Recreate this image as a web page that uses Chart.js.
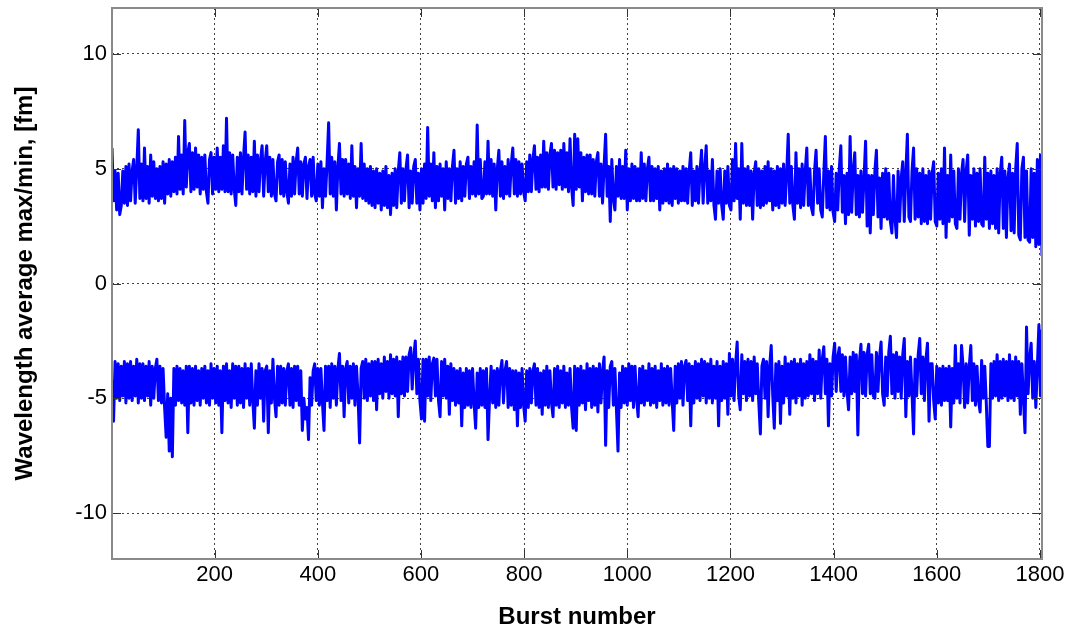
<!DOCTYPE html>
<html>
<head>
<meta charset="utf-8">
<script src="https://cdn.jsdelivr.net/npm/chart.js@4/dist/chart.umd.min.js"></script>
<style>
  html, body { margin: 0; padding: 0; background: #fff; }
  canvas { display: block; }
</style>
</head>
<body>
<canvas id="burstChart" width="1068" height="627"></canvas>
<script>
const CHART = document.getElementById("burstChart");

// one sample every 3 bursts (1, 4, 7 ... 1804)
const burstStep = 3;

const upperValues = [
  5.9, 3.6, 4.9, 3.2, 4.8, 3.0, 3.4, 4.9, 3.5, 5.1,
  3.4, 5.2, 3.6, 4.9, 5.4, 3.5, 5.0, 6.7, 3.7, 5.2,
  3.6, 5.9, 3.7, 5.1, 3.5, 5.6, 3.8, 5.3, 3.7, 5.0,
  3.6, 5.1, 3.7, 5.3, 3.5, 5.2, 3.9, 5.4, 3.8, 5.3,
  4.0, 5.5, 3.9, 6.4, 4.1, 5.6, 3.9, 7.1, 4.2, 5.7,
  6.1, 4.0, 5.7, 4.1, 5.9, 4.2, 5.6, 3.9, 5.5, 4.1,
  5.6, 4.0, 3.5, 5.4, 5.7, 3.9, 5.5, 4.1, 5.9, 4.0,
  5.5, 4.1, 6.0, 4.0, 7.2, 4.0, 5.7, 3.9, 5.6, 4.1,
  3.4, 5.5, 4.0, 5.7, 3.9, 5.5, 6.6, 4.1, 5.6, 3.9,
  5.5, 4.0, 6.2, 3.8, 5.6, 4.0, 5.4, 6.0, 3.8, 5.3,
  6.0, 4.0, 5.5, 3.8, 5.4, 3.9, 3.6, 5.3, 5.6, 3.9,
  5.4, 3.8, 5.3, 4.0, 3.5, 5.2, 3.8, 5.5, 3.9, 5.3,
  5.9, 3.9, 5.3, 3.8, 5.2, 5.5, 3.7, 5.1, 5.4, 3.8,
  5.5, 3.9, 3.6, 5.2, 3.8, 5.3, 3.3, 5.0, 3.8, 5.3,
  7.0, 3.9, 5.5, 3.8, 5.3, 3.2, 5.1, 6.1, 3.9, 5.4,
  3.8, 5.4, 3.9, 5.2, 3.7, 6.0, 3.8, 5.1, 3.3, 5.0,
  3.8, 6.1, 3.7, 5.2, 3.6, 5.0, 3.5, 5.1, 3.4, 4.9,
  3.3, 5.0, 3.5, 4.8, 3.2, 4.9, 3.4, 5.1, 3.3, 4.7,
  3.0, 4.8, 3.4, 5.0, 3.3, 4.9, 5.7, 3.5, 5.0, 3.6,
  5.0, 5.6, 3.3, 4.9, 3.5, 5.1, 5.4, 3.5, 4.8, 3.2,
  5.0, 3.5, 5.2, 3.7, 6.8, 3.8, 5.2, 3.6, 5.7, 3.3,
  5.1, 3.6, 5.2, 3.8, 5.0, 3.2, 5.3, 3.7, 5.0, 3.6,
  5.1, 5.8, 3.5, 5.0, 3.7, 5.3, 3.6, 5.1, 3.8, 5.2,
  5.5, 3.7, 5.1, 3.9, 5.3, 3.8, 6.9, 3.9, 5.4, 3.7,
  3.8, 5.3, 3.9, 6.2, 3.9, 5.4, 3.8, 5.2, 3.2, 5.0,
  5.8, 3.8, 5.3, 3.7, 5.1, 3.9, 5.4, 3.8, 5.2, 5.9,
  3.9, 5.4, 3.8, 5.3, 3.9, 5.2, 4.0, 3.6, 5.3, 4.0,
  5.6, 4.0, 5.4, 6.0, 4.1, 5.5, 4.0, 5.6, 4.2, 6.2,
  4.2, 5.7, 4.1, 5.6, 6.1, 4.2, 5.8, 4.1, 5.7, 4.3,
  5.8, 4.1, 6.1, 4.2, 5.7, 4.0, 6.3, 4.2, 3.4, 6.5,
  4.1, 6.3, 4.2, 5.7, 3.6, 5.5, 4.0, 5.6, 3.9, 5.6,
  3.9, 5.4, 3.8, 5.3, 5.7, 3.8, 5.2, 3.5, 5.1, 6.5,
  3.8, 5.1, 2.7, 5.4, 3.7, 3.2, 5.1, 3.8, 5.4, 3.7,
  5.1, 3.7, 5.8, 3.2, 5.0, 3.6, 5.2, 3.7, 5.1, 3.6,
  5.0, 3.6, 5.7, 3.7, 5.2, 3.6, 5.0, 5.5, 3.6, 5.1,
  3.6, 5.0, 3.7, 5.1, 3.2, 4.9, 3.5, 5.0, 3.6, 5.2,
  3.5, 5.0, 3.4, 5.1, 3.7, 5.0, 3.5, 4.9, 3.6, 5.1,
  3.6, 5.0, 3.5, 4.9, 5.7, 3.4, 4.9, 3.6, 5.1, 3.5,
  4.9, 5.8, 3.5, 5.0, 6.0, 3.5, 4.9, 3.6, 5.4, 3.4,
  2.8, 4.9, 3.5, 5.0, 3.4, 2.8, 4.9, 3.5, 5.1, 3.4,
  3.2, 5.4, 3.6, 6.1, 3.7, 5.0, 2.8, 6.1, 3.5, 5.0,
  3.4, 5.1, 3.4, 4.9, 2.8, 4.8, 5.3, 3.4, 5.0, 3.3,
  4.9, 3.4, 5.1, 3.5, 5.3, 3.6, 5.0, 3.2, 4.9, 3.4,
  5.1, 3.3, 5.0, 3.5, 5.2, 3.4, 4.8, 6.5, 3.5, 5.1,
  3.4, 2.8, 5.7, 3.5, 5.0, 3.3, 5.2, 3.4, 4.9, 5.9,
  3.4, 5.0, 3.3, 3.0, 4.9, 5.8, 3.5, 5.0, 3.2, 2.9,
  4.8, 6.4, 3.3, 4.9, 3.2, 5.1, 3.1, 2.7, 4.8, 3.2,
  5.0, 6.0, 3.1, 4.7, 2.6, 4.8, 3.0, 6.4, 3.1, 4.9,
  5.7, 3.0, 4.7, 2.9, 4.9, 3.1, 4.6, 6.2, 2.5, 4.7,
  2.2, 4.7, 3.0, 4.9, 5.8, 2.9, 4.6, 2.4, 4.8, 2.9,
  5.0, 2.8, 4.8, 2.7, 2.2, 4.7, 2.8, 2.0, 4.9, 2.7,
  4.6, 5.3, 2.7, 4.8, 6.5, 2.9, 2.7, 4.9, 5.9, 2.8,
  5.0, 2.9, 4.8, 2.6, 5.0, 2.7, 4.7, 2.6, 4.9, 2.8,
  4.8, 5.3, 2.7, 2.5, 4.8, 2.8, 5.0, 2.6, 5.9, 2.0,
  4.7, 2.7, 5.6, 2.9, 4.9, 2.6, 2.4, 5.0, 2.8, 4.8,
  5.4, 2.7, 4.9, 5.6, 2.1, 4.7, 2.8, 5.0, 2.5, 4.8,
  2.7, 5.0, 2.6, 2.5, 5.5, 2.8, 4.8, 2.4, 4.9, 2.6,
  4.7, 2.4, 5.0, 2.2, 4.8, 5.5, 2.4, 4.9, 2.0, 4.6,
  5.2, 2.3, 4.8, 2.2, 5.0, 6.1, 2.1, 1.9, 5.0, 5.5,
  2.0, 4.9, 1.9, 1.8, 5.0, 2.0, 4.8, 1.6, 5.4, 1.7,
  5.6, 1.2
];

const lowerValues = [
  -4.2, -6.0, -3.4, -5.0, -3.5, -5.1, -3.6, -4.9, -3.4, -5.2,
  -3.5, -5.0, -3.4, -5.1, -3.6, -4.9, -3.3, -5.2, -3.5, -5.0,
  -3.5, -5.1, -3.6, -4.9, -3.4, -5.3, -3.6, -5.0, -3.7, -3.3,
  -5.1, -3.6, -5.2, -3.7, -5.4, -6.7, -4.8, -7.3, -5.0, -7.55,
  -3.7, -5.3, -3.6, -5.1, -3.7, -5.2, -3.8, -5.3, -3.6, -6.5,
  -3.6, -5.2, -3.7, -5.3, -3.6, -5.1, -3.8, -5.3, -3.7, -5.0,
  -3.6, -5.2, -3.8, -5.3, -3.5, -5.0, -3.7, -5.2, -3.6, -5.3,
  -3.8, -6.5, -3.6, -5.1, -3.5, -5.2, -3.8, -5.4, -3.5, -5.0,
  -3.6, -5.3, -3.6, -5.2, -3.7, -5.4, -3.5, -5.0, -3.7, -5.3,
  -3.5, -5.1, -6.3, -3.8, -5.3, -3.5, -5.0, -3.7, -6.0, -3.8,
  -3.6, -6.5, -3.8, -5.2, -3.3, -5.0, -5.8, -3.6, -5.3, -3.6,
  -5.2, -3.7, -5.3, -3.8, -3.5, -5.3, -3.7, -5.4, -3.6, -5.1,
  -3.6, -5.3, -3.8, -6.4, -5.0, -5.9, -5.4, -6.8, -4.1, -5.3,
  -3.8, -3.5, -5.1, -3.7, -5.3, -3.7, -5.2, -6.4, -3.6, -5.1,
  -3.6, -5.4, -3.5, -5.0, -3.6, -5.3, -3.7, -3.05, -5.1, -3.6,
  -5.8, -3.7, -3.4, -5.2, -3.6, -5.0, -3.5, -5.3, -3.6, -4.9,
  -6.95, -3.7, -3.4, -5.0, -3.3, -5.1, -3.5, -4.9, -3.4, -5.1,
  -3.4, -5.5, -3.3, -4.8, -3.5, -5.0, -3.2, -4.7, -3.4, -5.0,
  -3.1, -4.8, -3.3, -4.9, -3.2, -5.8, -3.4, -4.8, -3.2, -4.9,
  -3.2, -4.7, -3.1, -2.8, -4.6, -3.2, -2.5, -4.8, -3.3, -5.1,
  -5.9, -3.3, -6.0, -3.3, -4.9, -3.2, -5.1, -3.5, -3.25, -4.9,
  -3.3, -5.1, -5.8, -3.4, -4.9, -3.3, -5.0, -3.6, -5.7, -3.5,
  -5.1, -3.7, -5.3, -3.8, -5.2, -3.7, -6.2, -3.9, -5.4, -3.7,
  -5.3, -3.8, -5.4, -3.7, -5.2, -6.3, -3.9, -5.4, -3.7, -5.3,
  -3.8, -5.4, -3.7, -6.8, -5.0, -3.6, -5.2, -3.8, -5.4, -3.7,
  -5.3, -3.8, -3.35, -5.2, -3.8, -3.4, -5.4, -3.7, -5.3, -3.8,
  -5.5, -3.8, -6.2, -3.9, -5.4, -3.7, -5.3, -6.0, -3.8, -5.4,
  -3.7, -5.2, -3.8, -3.5, -5.3, -3.7, -5.4, -3.9, -5.7, -3.8,
  -5.3, -3.6, -5.4, -3.8, -5.2, -5.8, -3.7, -5.3, -3.6, -5.4,
  -3.8, -5.2, -3.6, -5.4, -3.9, -5.3, -3.7, -5.4, -6.3, -3.6,
  -6.4, -3.7, -5.3, -3.6, -5.2, -3.8, -5.5, -3.5, -5.1, -3.7,
  -5.4, -3.6, -5.3, -3.7, -5.6, -3.5, -5.2, -3.8, -3.2, -7.05,
  -3.8, -5.4, -3.6, -3.4, -5.3, -3.7, -5.5, -7.3, -3.9, -5.4,
  -3.6, -5.2, -3.7, -5.3, -3.5, -5.1, -3.6, -5.4, -3.6, -5.0,
  -5.8, -3.7, -5.2, -3.6, -5.3, -3.8, -5.1, -3.5, -5.3, -3.7,
  -5.2, -3.6, -5.4, -3.8, -5.1, -3.5, -5.3, -3.7, -5.2, -3.6,
  -5.3, -3.7, -5.1, -6.4, -3.6, -5.2, -3.5, -5.0, -3.4, -5.3,
  -3.6, -3.35, -5.1, -3.5, -6.2, -3.6, -5.2, -3.4, -5.0, -3.5,
  -5.1, -3.3, -4.9, -3.4, -5.2, -3.5, -5.0, -3.3, -5.2, -3.6,
  -5.0, -3.4, -6.2, -3.6, -5.1, -3.4, -5.0, -3.5, -5.7, -3.05,
  -4.9, -3.3, -5.1, -3.5, -2.55, -4.9, -5.5, -3.1, -4.8, -3.4,
  -5.1, -3.3, -4.9, -3.4, -5.1, -3.2, -4.8, -3.5, -5.2, -6.55,
  -3.6, -3.3, -5.0, -3.4, -5.8, -3.6, -2.7, -4.9, -6.3, -3.5,
  -5.1, -3.4, -6.1, -3.6, -5.2, -3.2, -4.9, -3.5, -5.7, -3.4,
  -5.0, -3.3, -5.2, -3.5, -4.9, -3.3, -5.3, -3.5, -5.0, -3.4,
  -4.9, -3.1, -4.8, -3.3, -5.1, -3.4, -4.8, -2.9, -5.0, -3.3,
  -2.75, -4.8, -3.3, -6.2, -3.5, -4.9, -3.2, -2.6, -4.7, -3.2,
  -2.8, -4.7, -3.1, -4.9, -3.2, -4.7, -5.5, -3.2, -4.8, -3.0,
  -4.7, -3.1, -6.6, -3.4, -2.65, -4.8, -3.0, -4.9, -3.1, -2.65,
  -4.8, -3.1, -4.9, -5.0, -3.0, -4.7, -3.2, -2.55, -4.8, -5.3,
  -3.2, -4.9, -3.0, -2.3, -4.8, -3.1, -5.0, -3.0, -4.7, -3.2,
  -5.0, -3.1, -2.4, -5.8, -3.4, -4.9, -3.2, -4.8, -6.55, -3.3,
  -4.9, -3.1, -2.4, -4.8, -3.2, -5.1, -3.3, -2.6, -6.0, -3.5,
  -3.5, -5.1, -5.9, -3.6, -5.2, -3.7, -5.3, -3.6, -5.1, -3.7,
  -5.1, -3.6, -6.25, -3.7, -5.2, -2.7, -5.0, -3.5, -5.2, -2.7,
  -3.6, -5.4, -3.5, -5.2, -3.6, -2.7, -5.1, -3.5, -5.3, -3.6,
  -5.1, -5.6, -3.35, -5.0, -3.6, -5.2, -7.1, -7.1, -3.5, -5.0,
  -3.4, -4.9, -3.1, -5.1, -3.4, -5.0, -3.3, -4.9, -3.4, -5.1,
  -3.1, -5.0, -3.4, -5.1, -3.2, -4.9, -3.4, -5.7, -3.5, -5.0,
  -6.5, -1.9, -4.8, -3.3, -2.6, -5.0, -3.4, -5.4, -3.6, -1.8,
  -4.9, -2.0
];

const xTicks = [200, 400, 600, 800, 1000, 1200, 1400, 1600, 1800];
const yTicks = [-10, -5, 0, 5, 10];

const bursts = upperValues.map((v, i) => 1 + i * burstStep);

const FONT = "'Liberation Sans', Arial, Helvetica, sans-serif";
Chart.defaults.font.family = FONT;
Chart.defaults.color = "#000";

// matlab style box with inward tick marks
const axesBox = {
  id: "axesBox",
  afterDatasetsDraw(chart) {
    const ctx = chart.ctx;
    const a = chart.chartArea;
    const x = chart.scales.x, y = chart.scales.y;
    ctx.save();
    ctx.strokeStyle = "#333";
    ctx.lineWidth = 1;
    ctx.beginPath();
    xTicks.forEach(function(v) {
      const px = Math.round(x.getPixelForValue(v)) + 0.5;
      ctx.moveTo(px, a.bottom); ctx.lineTo(px, a.bottom - 9);
      ctx.moveTo(px, a.top); ctx.lineTo(px, a.top + 9);
    });
    yTicks.forEach(function(v) {
      const py = Math.round(y.getPixelForValue(v)) + 0.5;
      ctx.moveTo(a.left, py); ctx.lineTo(a.left + 9, py);
      ctx.moveTo(a.right, py); ctx.lineTo(a.right - 9, py);
    });
    ctx.stroke();
    ctx.strokeStyle = "#8a8a8a";
    ctx.lineWidth = 2;
    ctx.strokeRect(a.left, a.top, a.right - a.left, a.bottom - a.top);
    ctx.restore();
  }
};

function bandDataset(label, values) {
  return {
    label: label,
    data: bursts.map((b, i) => ({ x: b, y: values[i] })),
    borderColor: "#0000ff",
    borderWidth: 3,
    borderJoinStyle: "round",
    pointRadius: 0,
    tension: 0,
    fill: false
  };
}

let burstChart = new Chart(CHART, {
  type: "line",
  data: {
    datasets: [
      bandDataset("max", upperValues),
      bandDataset("min", lowerValues)
    ]
  },
  options: {
    responsive: false,
    animation: false,
    devicePixelRatio: 1,
    layout: { padding: { top: 8, right: 26, left: 0, bottom: 0 } },
    plugins: {
      legend: { display: false },
      tooltip: { enabled: false }
    },
    scales: {
      x: {
        type: "linear",
        min: 1,
        max: 1804,
        afterBuildTicks: function(scale) {
          scale.ticks = xTicks.map(v => ({ value: v }));
        },
        afterFit: function(scale) {
          scale.height = 68;
          scale.paddingLeft = 0;
          scale.paddingRight = 0;
        },
        ticks: {
          font: { size: 22 },
          color: "#000",
          padding: 3,
          maxRotation: 0,
          autoSkip: false,
          callback: v => String(v)
        },
        grid: {
          color: "#444",
          lineWidth: 1,
          drawTicks: false
        },
        border: { display: false, dash: [2, 3] },
        title: {
          display: true,
          text: "Burst number",
          font: { size: 24, weight: "bold", lineHeight: 0.84 },
          padding: { top: 0, bottom: 0 },
          color: "#000"
        }
      },
      y: {
        type: "linear",
        min: -12,
        max: 12,
        afterBuildTicks: function(scale) {
          scale.ticks = yTicks.map(v => ({ value: v }));
        },
        afterFit: function(scale) {
          scale.width = 112;
          scale.paddingTop = 0;
          scale.paddingBottom = 0;
        },
        ticks: {
          font: { size: 22 },
          color: "#000",
          padding: 5,
          callback: v => String(v)
        },
        grid: {
          color: "#444",
          lineWidth: 1,
          drawTicks: false
        },
        border: { display: false, dash: [2, 3] },
        title: {
          display: true,
          text: "Wavelength average max/min, [fm]",
          font: { size: 24, weight: "bold", lineHeight: 0.84 },
          padding: { top: 15, bottom: 0 },
          color: "#000"
        }
      }
    }
  },
  plugins: [axesBox]
});
</script>
</body>
</html>
